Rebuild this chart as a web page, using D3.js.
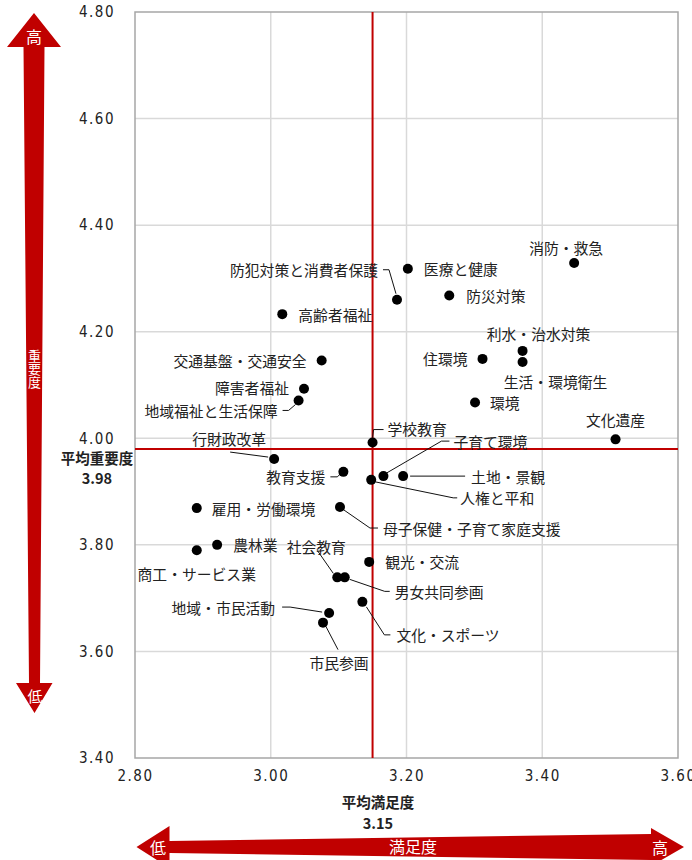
<!DOCTYPE html>
<html>
<head>
<meta charset="utf-8">
<script src="https://cdnjs.cloudflare.com/ajax/libs/d3/7.8.5/d3.min.js"></script>
<style>
  body { margin: 0; background: #fff; }
  .lbl { font-family: "Noto Sans CJK JP", sans-serif; font-size: 14.8px; fill: #222; }
  .tick-num { font-family: "Liberation Sans Narrow", "DejaVu Sans Condensed", sans-serif; font-size: 15px; fill: #222; letter-spacing: 1.5px; }
</style>
</head>
<body>
<div class="grafico"></div>
<script>
// datos: nombre del tema, satisfaccion media (x), importancia media (y)
var temas = ['消防・救急', '医療と健康', '防犯対策と消費者保護', '防災対策', '高齢者福祉',
  '利水・治水対策', '生活・環境衛生', '住環境', '環境', '文化遺産',
  '交通基盤・交通安全', '障害者福祉', '地域福祉と生活保障', '行財政改革', '学校教育',
  '子育て環境', '土地・景観', '人権と平和', '教育支援', '母子保健・子育て家庭支援',
  '雇用・労働環境', '農林業', '商工・サービス業', '社会教育', '男女共同参画',
  '観光・交流', '文化・スポーツ', '地域・市民活動', '市民参画'];

var manzoku = [3.447, 3.202, 3.186, 3.263, 3.017,
  3.371, 3.371, 3.312, 3.301, 3.508,
  3.075, 3.049, 3.041, 3.005, 3.150,
  3.166, 3.195, 3.148, 3.107, 3.102,
  2.891, 2.921, 2.891, 3.098, 3.109,
  3.145, 3.135, 3.086, 3.077];

var juyo = [4.329, 4.318, 4.260, 4.268, 4.233,
  4.164, 4.143, 4.149, 4.067, 3.998,
  4.146, 4.093, 4.071, 3.961, 3.992,
  3.929, 3.929, 3.922, 3.937, 3.871,
  3.869, 3.800, 3.790, 3.739, 3.739,
  3.768, 3.693, 3.672, 3.654];

var promedioX = 3.15;
var promedioY = 3.98;
var ticksX = [2.80, 3.00, 3.20, 3.40, 3.60];
var ticksY = [3.40, 3.60, 3.80, 4.00, 4.20, 4.40, 4.60, 4.80];

// ubicacion de etiquetas respecto al punto: [dx, dy, anchor, linea guia]
var etiquetas = [
  [-8, -15, 'middle'], [16, 0, 'start'], [-19, -30, 'end', [[-14, -30], [-8, -30], [-1, -6]]],
  [17, 0, 'start'], [16, 0, 'start'],
  [16, -17, 'middle'], [33, 19, 'middle'], [-15, 0, 'end'], [15, 0, 'start'], [0, -20, 'middle'],
  [-15, 0, 'end'], [-15, -1, 'end'], [-21, 10, 'end', [[-16, 10], [-10, 10], [-3, 4]]],
  [-45, -21, 'middle', [[-44, -7], [-6, -2]]], [15, -14, 'start', [[0, -5], [1, -13], [11, -13]]],
  [70, -35, 'start', [[3, -3], [58, -35], [66, -35]]], [68, 0, 'start', [[7, 0], [62, 0]]],
  [89, 18, 'start', [[4, 2], [82, 18], [86, 18]]], [-18, 5, 'end', [[-13, 5], [-6, 5], [-3, 2]]],
  [43, 21, 'start', [[4, 3], [30, 21], [38, 21]]],
  [15, 0, 'start'], [16, 0, 'start'], [0, 23, 'middle'],
  [-21, -31, 'middle', [[-20, -27], [-4, -4]]], [50, 14, 'start', [[5, 2], [40, 14], [45, 14]]],
  [16, 0, 'start'], [34, 33, 'start', [[4, 5], [22, 33], [28, 33]]],
  [-54, -6, 'end', [[-47, -6], [-39, -6], [-7, -1]]], [16, 40, 'middle', [[3, 4], [15, 27]]]
];

var rojo = '#c00000';

var svg = d3.select('.grafico')
  .append('svg')
  .attr('width', 692)
  .attr('height', 860);

const xScale = d3.scaleLinear().domain([2.8, 3.6]).range([135, 678]);
const yScale = d3.scaleLinear().domain([3.4, 4.8]).range([758, 12]);

// grilla
svg.append('g')
  .selectAll('line')
  .data(ticksX.slice(1, -1))
  .enter()
  .append('line')
  .attr('x1', d => xScale(d)).attr('x2', d => xScale(d))
  .attr('y1', yScale(4.8)).attr('y2', yScale(3.4))
  .attr('stroke', '#d9d9d9').attr('stroke-width', 1.5);

svg.append('g')
  .selectAll('line')
  .data(ticksY.slice(1, -1))
  .enter()
  .append('line')
  .attr('y1', d => yScale(d)).attr('y2', d => yScale(d))
  .attr('x1', xScale(2.8)).attr('x2', xScale(3.6))
  .attr('stroke', '#d9d9d9').attr('stroke-width', 1.5);

svg.append('rect')
  .attr('x', xScale(2.8)).attr('y', yScale(4.8))
  .attr('width', xScale(3.6) - xScale(2.8))
  .attr('height', yScale(3.4) - yScale(4.8))
  .attr('fill', 'none')
  .attr('stroke', '#a6a6a6').attr('stroke-width', 1.5);

// ejes (solo texto)
const xAxis = d3.axisBottom(xScale).tickValues(ticksX).tickFormat(d3.format('.2f')).tickSize(0).tickPadding(12);
const yAxis = d3.axisLeft(yScale).tickValues(ticksY).tickFormat(d3.format('.2f')).tickSize(0).tickPadding(20);

svg.append('g')
  .attr('transform', 'translate(0,' + yScale(3.4) + ')')
  .call(xAxis)
  .call(g => g.select('.domain').remove())
  .selectAll('text').attr('class', 'tick-num').attr('font-family', null).attr('font-size', null);

svg.append('g')
  .attr('transform', 'translate(' + xScale(2.8) + ',0)')
  .call(yAxis)
  .call(g => g.select('.domain').remove())
  .selectAll('text').attr('class', 'tick-num').attr('font-family', null).attr('font-size', null);

// lineas de promedio
svg.append('line')
  .attr('x1', xScale(promedioX)).attr('x2', xScale(promedioX))
  .attr('y1', yScale(4.8)).attr('y2', yScale(3.4))
  .attr('stroke', rojo).attr('stroke-width', 2);

svg.append('line')
  .attr('y1', yScale(promedioY)).attr('y2', yScale(promedioY))
  .attr('x1', xScale(2.8)).attr('x2', xScale(3.6))
  .attr('stroke', rojo).attr('stroke-width', 2);

// lineas guia
var guia = d3.line();
svg.append('g')
  .selectAll('path')
  .data(temas.map((t, i) => i).filter(i => etiquetas[i][3]))
  .enter()
  .append('path')
  .attr('d', i => guia(etiquetas[i][3].map(p => [xScale(manzoku[i]) + p[0], yScale(juyo[i]) + p[1]])))
  .attr('fill', 'none')
  .attr('stroke', '#111')
  .attr('stroke-width', 1);

// puntos
svg.append('g')
  .selectAll('circle')
  .data(temas)
  .enter()
  .append('circle')
  .attr('cx', (d, i) => xScale(manzoku[i]))
  .attr('cy', (d, i) => yScale(juyo[i]))
  .attr('r', 5)
  .attr('fill', '#000');

svg.append('g')
  .selectAll('text')
  .data(temas)
  .enter()
  .append('text')
  .attr('class', 'lbl')
  .attr('x', (d, i) => xScale(manzoku[i]) + etiquetas[i][0])
  .attr('y', (d, i) => yScale(juyo[i]) + etiquetas[i][1])
  .attr('text-anchor', (d, i) => etiquetas[i][2])
  .attr('dominant-baseline', 'central')
  .text(d => d);

// titulos de promedio
svg.append('text').attr('class', 'lbl').attr('font-weight', 'bold')
  .attr('x', 97).attr('y', 457).attr('text-anchor', 'middle').attr('dominant-baseline', 'central')
  .style('font-size', '14.5px').text('平均重要度');
svg.append('text').attr('class', 'lbl').attr('font-weight', 'bold')
  .attr('x', 97).attr('y', 477).attr('text-anchor', 'middle').attr('dominant-baseline', 'central')
  .style('font-size', '14.5px').text('3.98');
svg.append('text').attr('class', 'lbl').attr('font-weight', 'bold')
  .attr('x', 378).attr('y', 801).attr('text-anchor', 'middle').attr('dominant-baseline', 'central')
  .style('font-size', '14.5px').text('平均満足度');
svg.append('text').attr('class', 'lbl').attr('font-weight', 'bold')
  .attr('x', 378).attr('y', 822).attr('text-anchor', 'middle').attr('dominant-baseline', 'central')
  .style('font-size', '14.5px').text('3.15');

// flecha vertical (importancia)
svg.append('polygon')
  .attr('points', [[34, 13], [61, 47], [44.5, 47], [40, 683], [52.5, 683], [34.5, 713],
    [16, 683], [29, 683], [23.5, 47], [7, 47]].join(' '))
  .attr('fill', rojo);

svg.append('text').attr('class', 'lbl').attr('fill', '#fff')
  .attr('x', 34).attr('y', 36).attr('text-anchor', 'middle').attr('dominant-baseline', 'central')
  .style('fill', '#fff').style('font-size', '16px').text('高');
svg.append('text').attr('class', 'lbl')
  .attr('x', 35).attr('y', 695).attr('text-anchor', 'middle').attr('dominant-baseline', 'central')
  .style('fill', '#fff').style('font-size', '15px').text('低');
svg.append('text').attr('class', 'lbl')
  .attr('x', 34.5).attr('y', 350)
  .style('writing-mode', 'vertical-rl')
  .style('fill', '#fff').style('font-size', '13px')
  .text('重要度');

// flecha horizontal (satisfaccion)
svg.append('polygon')
  .attr('points', [[136.5, 847], [169.5, 826], [169.5, 841], [651, 834], [651, 828], [684, 847],
    [651, 866], [651, 860], [169.5, 853], [169.5, 868]].join(' '))
  .attr('fill', rojo);

svg.append('text').attr('class', 'lbl')
  .attr('x', 158).attr('y', 847).attr('text-anchor', 'middle').attr('dominant-baseline', 'central')
  .style('fill', '#fff').style('font-size', '16px').text('低');
svg.append('text').attr('class', 'lbl')
  .attr('x', 413).attr('y', 846).attr('text-anchor', 'middle').attr('dominant-baseline', 'central')
  .style('fill', '#fff').style('font-size', '16px').text('満足度');
svg.append('text').attr('class', 'lbl')
  .attr('x', 660).attr('y', 847).attr('text-anchor', 'middle').attr('dominant-baseline', 'central')
  .style('fill', '#fff').style('font-size', '16px').text('高');
</script>
</body>
</html>
